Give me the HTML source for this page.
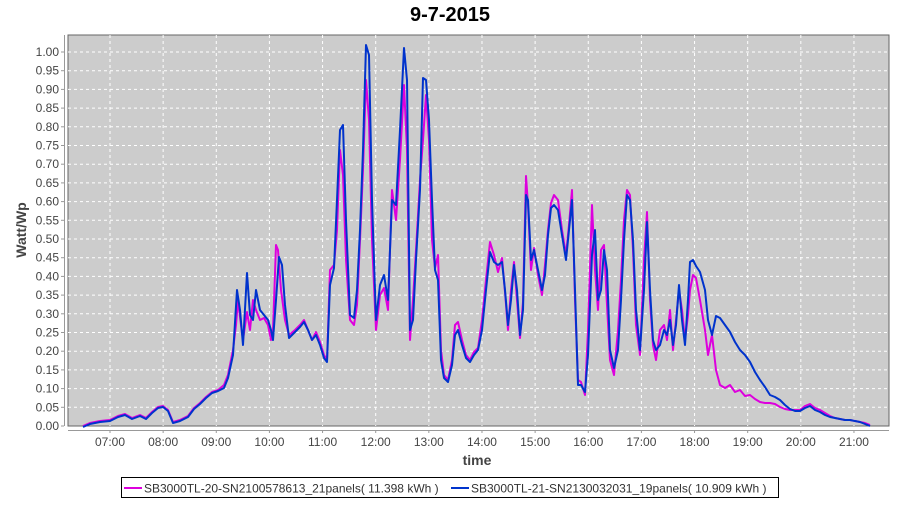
<!DOCTYPE html>
<html><head><meta charset="utf-8"><style>
body{margin:0;background:#fff;width:900px;height:500px;overflow:hidden;font-family:"Liberation Sans",sans-serif}
</style></head><body>
<svg id="s" width="900" height="500" xmlns="http://www.w3.org/2000/svg" font-family="Liberation Sans, sans-serif">
<text x="450" y="21" text-anchor="middle" font-size="20" font-weight="bold" fill="#000">9-7-2015</text>
<rect x="68" y="35" width="821" height="391" fill="#cccccc" stroke="#666" stroke-width="1"/>
<g id="grid" stroke="#fff" stroke-width="1" stroke-dasharray="3,3"></g>
<line x1="64.5" y1="35" x2="64.5" y2="426" stroke="#999"/>
<line x1="68" y1="430.5" x2="889" y2="430.5" stroke="#999"/>
<g id="yl" font-size="12" fill="#444" text-anchor="end"></g>
<g id="xl" font-size="12" fill="#444" text-anchor="middle"></g>
<text x="477" y="465" text-anchor="middle" font-size="14" font-weight="bold" fill="#444">time</text>
<text transform="translate(26,230) rotate(-90)" text-anchor="middle" font-size="14" font-weight="bold" fill="#444">Watt/Wp</text>
<polyline id="m" fill="none" stroke="#dd00dd" stroke-width="2" stroke-linejoin="round"/>
<polyline id="b" fill="none" stroke="#0033cc" stroke-width="2" stroke-linejoin="round"/>
<rect x="121.5" y="477.5" width="657" height="20" fill="#fff" stroke="#000"/>
<line x1="124" y1="488" x2="142" y2="488" stroke="#dd00dd" stroke-width="2"/>
<text x="144" y="492.5" font-size="12" fill="#333">SB3000TL-20-SN2100578613_21panels( 11.398 kWh )</text>
<line x1="451" y1="488" x2="469" y2="488" stroke="#0033cc" stroke-width="2"/>
<text x="471" y="492.5" font-size="12" fill="#333">SB3000TL-21-SN2130032031_19panels( 10.909 kWh )</text>
</svg>
<script>
var NS="http://www.w3.org/2000/svg";
function el(p,t,a,txt){var e=document.createElementNS(NS,t);for(var k in a)e.setAttribute(k,a[k]);if(txt)e.textContent=txt;document.getElementById(p).appendChild(e);}
for(var i=0;i<=20;i++){var v=i*0.05,y=426-374*v;
 if(i>0)el("grid","line",{x1:68,x2:889,y1:y,y2:y});
 el("yl","line",{x1:61,x2:64,y1:y,y2:y,stroke:"#999"});
 el("yl","text",{x:59,y:y+4},v.toFixed(2));}
for(var h=7;h<=21;h++){var x=110+53.14*(h-7);
 el("grid","line",{x1:x,x2:x,y1:35,y2:426});
 el("xl","line",{x1:x,x2:x,y1:430,y2:433,stroke:"#999"});
 el("xl","text",{x:x,y:446},(h<10?"0":"")+h+":00");}
var m=[83,426,90,423,100,421,110,420,118,416,125,414,132,418,140,415,146,418,152,412,158,407,163,406,168,410,173,422,180,420,188,416,194,408,200,403,206,397,212,392,218,390,224,385,228,375,233,350,236,325,238,300,241,325,243,340,247,312,250,330,253,300,256,310,260,320,264,318,268,325,271,340,273,330,276,245,278,250,281,290,285,320,289,335,295,330,300,325,304,320,308,330,312,340,316,332,320,342,324,355,327,360,330,270,334,265,337,230,340,150,343,175,346,260,350,320,354,325,357,305,360,240,363,170,366,80,369,120,372,240,376,330,380,295,384,288,388,310,392,190,396,220,400,160,404,85,407,150,410,340,413,300,416,250,420,180,423,140,426,95,429,140,432,240,435,268,438,255,441,350,444,375,448,380,452,360,455,325,458,322,462,340,466,355,470,360,474,352,478,348,482,320,486,280,490,242,494,255,498,272,502,258,505,292,508,330,511,290,514,262,517,300,520,338,523,302,526,176,528,205,531,270,534,248,538,275,542,295,545,265,548,230,551,203,554,195,558,200,562,230,566,255,569,225,572,190,575,300,578,380,581,382,585,395,588,330,592,205,595,270,598,310,601,250,604,245,607,305,610,360,614,375,618,330,621,280,624,220,627,190,630,195,633,250,636,325,640,355,644,260,647,212,650,300,653,345,656,360,660,330,664,325,667,340,670,310,673,350,676,320,679,290,682,310,685,340,688,315,690,290,693,275,696,278,700,300,705,330,708,355,712,335,716,370,720,385,725,388,730,385,735,392,740,390,745,396,750,395,755,399,760,402,765,403,770,403,775,404,780,407,785,409,790,410,795,410,800,410,805,406,810,404,815,408,820,410,825,413,830,416,835,418,840,419,845,420,850,420,855,421,860,422,865,423,870,425];
var b=[83,427,90,424,100,422,110,421,118,417,125,415,132,419,140,416,146,419,152,413,158,408,163,407,168,411,173,423,180,421,188,417,194,409,200,404,206,398,212,393,218,391,224,388,228,378,233,355,237,290,240,310,243,345,247,273,250,315,253,320,256,290,260,310,264,315,268,320,271,330,273,340,276,300,279,257,282,265,285,305,289,338,295,332,300,327,304,322,308,330,312,340,316,335,320,345,324,358,327,362,330,285,334,268,337,200,340,130,343,125,346,220,350,315,354,318,357,290,360,230,363,150,366,45,369,55,372,200,376,320,380,285,384,275,388,300,392,200,396,205,400,130,404,48,407,80,410,330,413,320,416,260,420,190,423,78,426,80,429,120,432,200,435,270,438,280,441,360,444,378,448,382,452,365,455,335,458,330,462,345,466,358,470,362,474,355,478,350,482,330,486,290,490,252,494,262,498,265,502,262,505,290,508,325,511,300,514,265,517,290,520,335,523,310,526,195,528,200,531,260,534,250,538,270,542,290,545,275,548,235,551,208,554,205,558,210,562,235,566,260,569,230,572,200,575,290,578,385,581,385,585,392,588,355,592,255,595,230,598,300,601,290,604,250,607,270,610,350,614,368,618,350,621,300,624,240,627,195,630,200,633,240,636,310,640,350,644,290,647,222,650,290,653,340,656,350,660,345,664,330,667,335,670,320,673,345,676,325,679,285,682,320,685,345,688,300,690,262,693,260,696,266,700,272,705,290,708,320,712,335,716,316,720,318,725,325,730,332,735,342,740,350,745,355,750,362,755,372,760,380,765,387,770,395,775,397,780,400,785,405,790,409,795,411,800,411,805,408,810,406,815,410,820,412,825,415,830,417,835,418,840,419,845,420,850,420,855,421,860,422,865,424,870,426];
function pts(a){var s=[];for(var i=0;i<a.length;i+=2)s.push(a[i]+","+a[i+1]);return s.join(" ");}
document.getElementById("m").setAttribute("points",pts(m));
document.getElementById("b").setAttribute("points",pts(b));
</script>
</body></html>
